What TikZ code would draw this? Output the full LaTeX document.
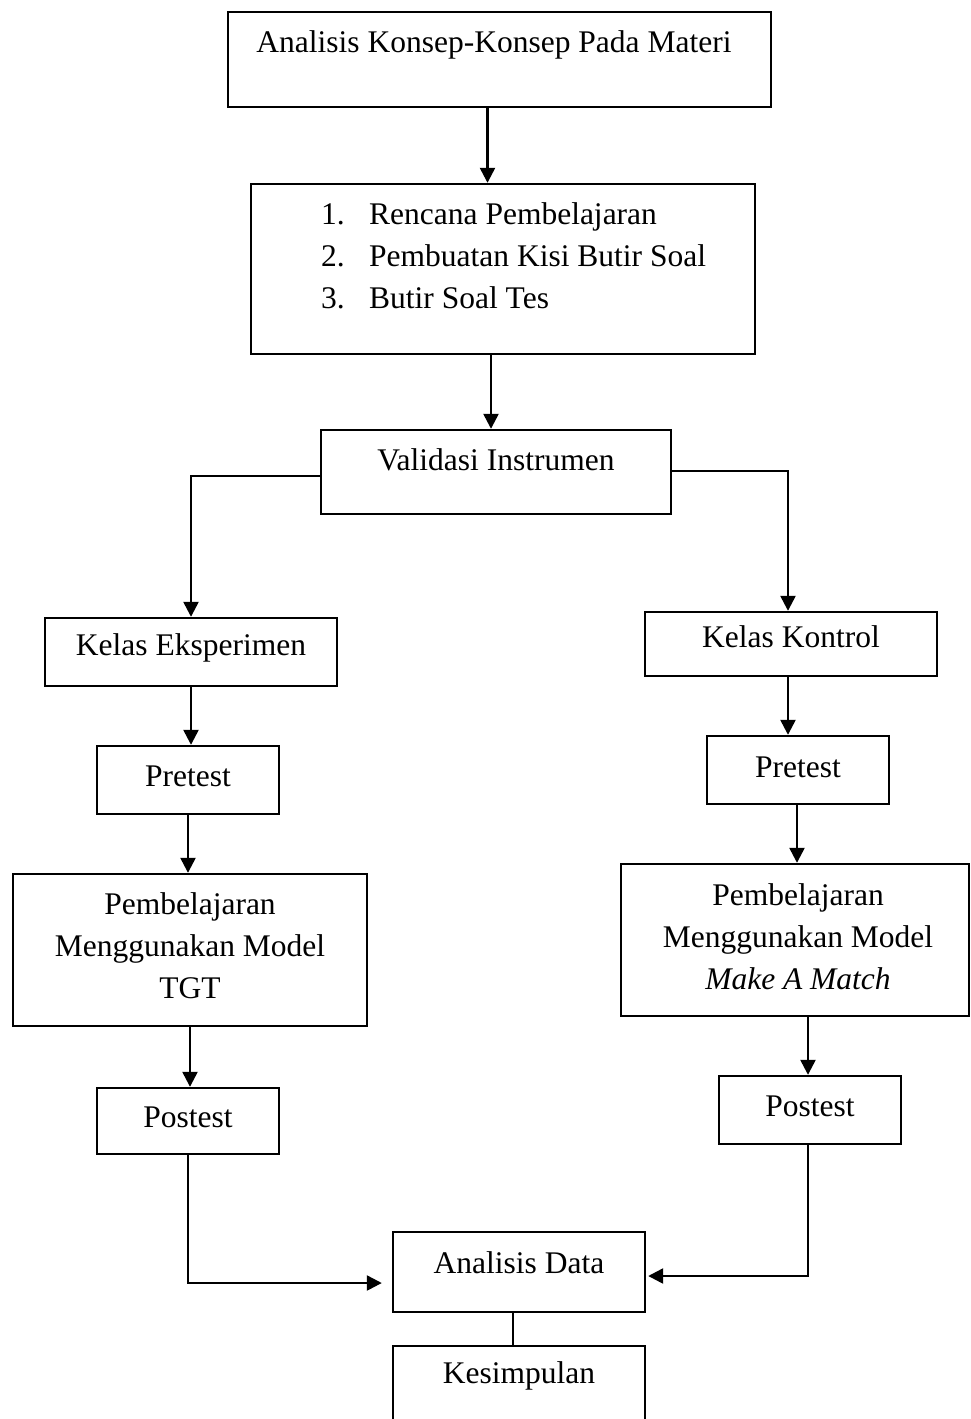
\documentclass[tikz,border=0pt]{standalone}
\usepackage{fontspec}
\setmainfont{Liberation Serif}
\usetikzlibrary{arrows.meta}
\begin{document}
\begin{tikzpicture}[x=1pt,y=-1pt,
  bx/.style={draw,line width=2.4pt,inner sep=0pt,minimum width=#1},
  txt/.style={inner sep=0pt,align=center,font=\fontsize{31.5}{42}\selectfont},
  arr/.style={line width=2.4pt,-{Triangle[length=15pt,width=15pt]}},
  ln/.style={line width=2.4pt}]
\useasboundingbox (0,0) rectangle (970,1419);
% boxes
\node[bx=543pt,minimum height=95pt] (top) at (499.5,59.5) {};
\node[bx=504pt,minimum height=170pt] (lst) at (503,269) {};
\node[bx=350pt,minimum height=84pt] (val) at (496,472) {};
\node[bx=292pt,minimum height=68pt] (ke) at (191,652) {};
\node[bx=292pt,minimum height=64pt] (kk) at (791,644) {};
\node[bx=182pt,minimum height=68pt] (pl) at (188,780) {};
\node[bx=182pt,minimum height=68pt] (pr) at (798,770) {};
\node[bx=354pt,minimum height=152pt] (pml) at (190,950) {};
\node[bx=348pt,minimum height=152pt] (pmr) at (795,940) {};
\node[bx=182pt,minimum height=66pt] (psl) at (188,1121) {};
\node[bx=182pt,minimum height=68pt] (psr) at (810,1110) {};
\node[bx=252pt,minimum height=80pt] (ad) at (519,1272) {};
\node[inner sep=0pt,minimum width=252pt,minimum height=73pt] (kes) at (519,1382.5) {};
\draw[ln] (kes.south west) -- (kes.north west) -- (kes.north east) -- (kes.south east);
% texts
\node[txt] (topt) at (494,45) {Analisis Konsep-Konsep Pada Materi};
\node[txt,anchor=west,align=left] (lstt) at (321,256) {\makebox[48pt][l]{1.}Rencana Pembelajaran\\\makebox[48pt][l]{2.}Pembuatan Kisi Butir Soal\\\makebox[48pt][l]{3.}Butir Soal Tes};
\node[txt] (valt) at (496,460) {Validasi Instrumen};
\node[txt] (ket) at (191,648) {Kelas Eksperimen};
\node[txt] (kkt) at (791,637) {Kelas Kontrol};
\node[txt] (plt) at (188,776) {Pretest};
\node[txt] (prt) at (798,767) {Pretest};
\node[txt] (pmlt) at (190,946) {Pembelajaran\\Menggunakan Model\\TGT};
\node[txt] (pmrt) at (798,937) {Pembelajaran\\Menggunakan Model\\\textit{Make A Match}};
\node[txt] (pslt) at (188,1117) {Postest};
\node[txt] (psrt) at (810,1106) {Postest};
\node[txt] (adt) at (519,1263) {Analisis Data};
\node[txt] (kest) at (519,1376) {Kesimpulan};
% connectors
\draw[arr] ([xshift=-12pt]top.south) -- ([xshift=-12pt]top.south |- lst.north);
\draw[arr] ([xshift=-12pt]lst.south) -- ([xshift=-12pt]lst.south |- val.north);
\draw[arr] ([yshift=-4pt]val.west) -| (ke.north);
\draw[arr] ([yshift=1pt]val.east) -| ([xshift=-3pt]kk.north);
\draw[arr] (ke.south) -- (ke.south |- pl.north);
\draw[arr] (pl.south) -- (pl.south |- pml.north);
\draw[arr] (pml.south) -- (pml.south |- psl.north);
\draw[arr] ([xshift=-3pt]kk.south) -- ([xshift=-3pt]kk.south |- pr.north);
\draw[arr] ([xshift=-1pt]pr.south) -- ([xshift=-1pt]pr.south |- pmr.north);
\draw[arr] ([xshift=-2pt]psr.north |- pmr.south) -- ([xshift=-2pt]psr.north);
\draw[arr,shorten >=10pt] (psl.south) |- ([yshift=-11pt]ad.west);
\draw[arr,shorten >=2pt] ([xshift=-2pt]psr.south) |- ([yshift=-4pt]ad.east);
\draw[ln] ([xshift=-6pt]ad.south) -- ([xshift=-6pt]ad.south |- kes.north);
\end{tikzpicture}
\end{document}
